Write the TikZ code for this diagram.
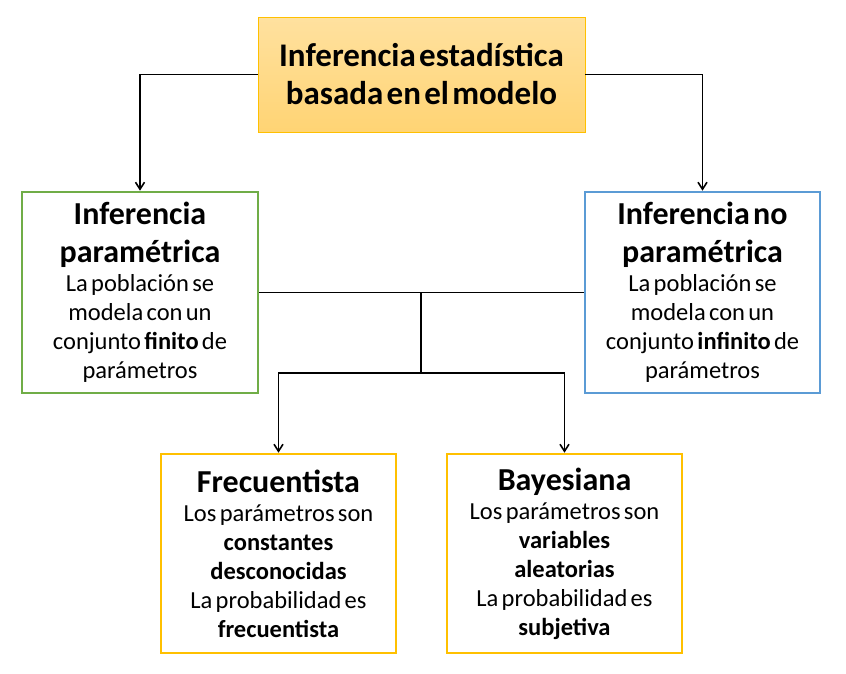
\documentclass[tikz,border=0pt]{standalone}
\usepackage{fontspec}
\setmainfont{Carlito}
\usetikzlibrary{arrows.meta}
\definecolor{gold}{HTML}{FFC000}
\definecolor{pgreen}{HTML}{70AD47}
\definecolor{pblue}{HTML}{5B9BD5}
\definecolor{ftop}{HTML}{FFE19F}
\definecolor{fbot}{HTML}{FFD474}
\tikzset{
  box/.style={draw, line width=2.6pt, inner sep=0pt, align=center, text width=#1},
  conn/.style={line width=1.6pt, black},
  arr/.style={conn, -{Straight Barb[length=7pt,width=9pt,line width=1.6pt]}},
}
\newcommand{\hdr}[1]{{\bfseries\fontsize{32}{38}\selectfont #1\par}}
\newcommand{\bdy}[1]{{\fontsize{24.5}{29}\selectfont #1\par}}
\begin{document}
\begin{tikzpicture}[x=1pt,y=-1pt]
\useasboundingbox (0,0) rectangle (846,673);
\node[draw=gold, line width=0.8pt, top color=ftop, bottom color=fbot, minimum width=327pt, minimum height=115pt, inner sep=0pt, align=center, text width=325pt] (top) at (421.5,74.5)
  {{\bfseries\fontsize{33}{38}\selectfont Inferencia estadística\\ basada en el modelo\par}};
\node[box=234pt, draw=pgreen, minimum width=236pt, minimum height=201pt] (par) at (140,292.5)
  {\hdr{Inferencia\\ paramétrica}\bdy{La población se\\ modela con un\\ conjunto \textbf{finito} de\\ parámetros}};
\node[box=233pt, draw=pblue, minimum width=235pt, minimum height=201pt] (nopar) at (702.5,292.5)
  {\hdr{Inferencia no\\ paramétrica}\bdy{La población se\\ modela con un\\ conjunto \textbf{infinito} de\\ parámetros}};
\node[box=233pt, draw=gold, minimum width=235pt, minimum height=199pt] (frec) at (278.5,553.5)
  {\hdr{Frecuentista}\bdy{Los parámetros son\\ \textbf{constantes}\\ \textbf{desconocidas}\\ La probabilidad es\\ \textbf{frecuentista}}};
\node[box=233pt, draw=gold, minimum width=235pt, minimum height=199pt] (bay) at (564.5,553.5)
  {\hdr{Bayesiana}\bdy{Los parámetros son\\ \textbf{variables}\\ \textbf{aleatorias}\\ La probabilidad es\\ \textbf{subjetiva}}};
\draw[arr] (top.west) -| (par.north);
\draw[arr] (top.east) -| (nopar.north);
\draw[conn] (par.east) -- (nopar.west);
\coordinate (j) at (421,292.5);
\coordinate (k) at (421,373);
\draw[conn] (j) -- (k);
\draw[arr] (k) -| (frec.north);
\draw[arr] (k) -| (bay.north);
\end{tikzpicture}
\end{document}
